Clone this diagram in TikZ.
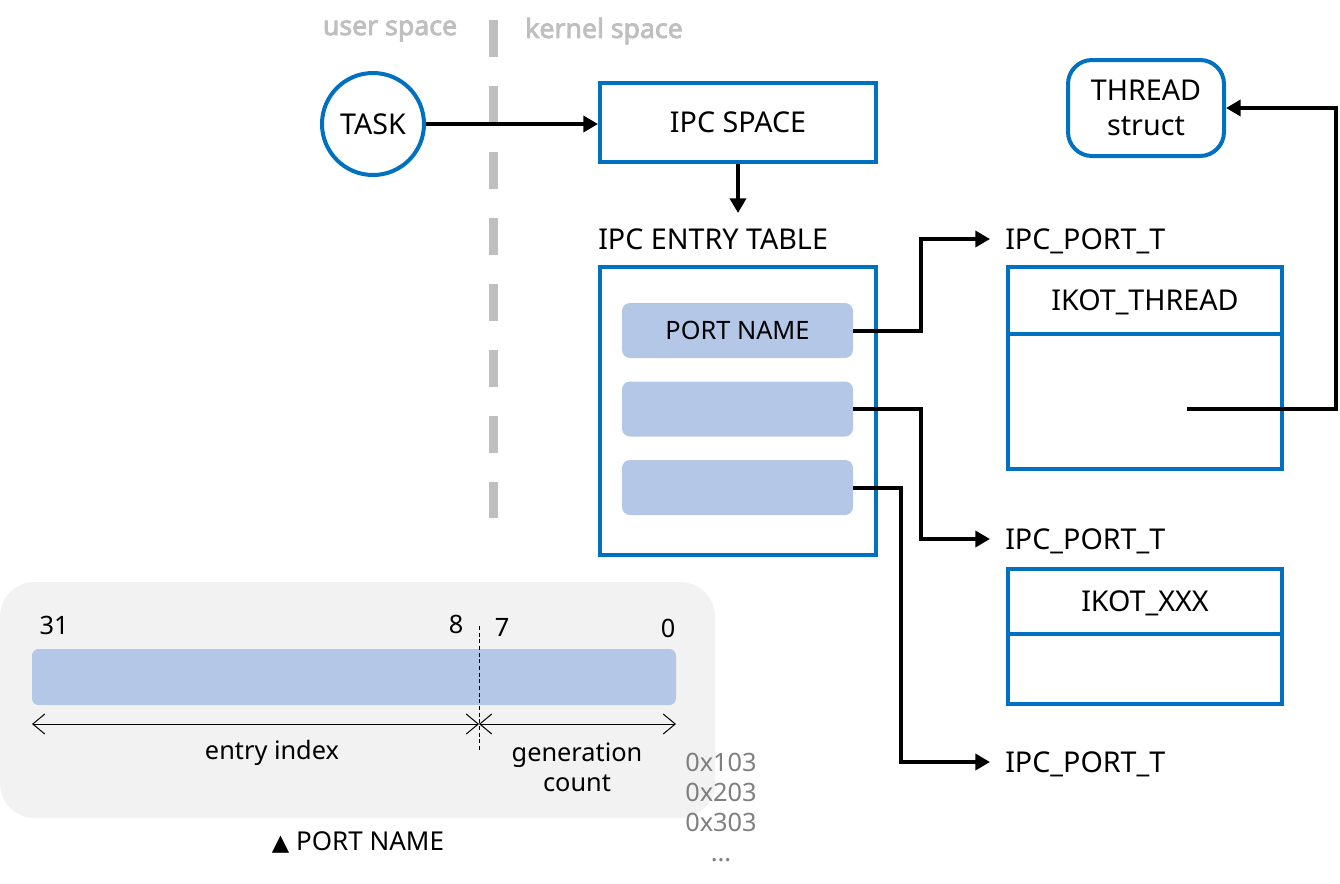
\documentclass[tikz,border=0pt]{standalone}
\usepackage{fontspec}
\setmainfont{Noto Sans}
\newfontfamily\symfont{DejaVu Sans}
\newfontfamily\spacefont{Noto Sans}[FakeBold=3]
\usetikzlibrary{arrows.meta}
\definecolor{pblue}{HTML}{0070C0}
\definecolor{lblue}{HTML}{B4C7E7}
\definecolor{panelgray}{HTML}{F2F2F2}
\definecolor{spacegray}{HTML}{BFBFBF}
\definecolor{hexgray}{HTML}{7F7F7F}
\tikzset{
  mainfont/.style={font=\fontsize{21.5}{26}\selectfont},
  blueline/.style={draw=pblue, line width=3pt, inner sep=0pt, mainfont, align=center},
  bluebox/.style={blueline, text height=15.4pt, text depth=0pt},
  entrybox/.style={fill=lblue, rounded corners=6pt, minimum width=173.25pt, minimum height=41.25pt, inner sep=0pt, font=\fontsize{19}{22}\selectfont, text height=13.6pt, text depth=0pt},
  arr/.style={line width=3pt, -{Triangle[length=11pt,width=12pt]}},
  caplabel/.style={inner sep=0pt, mainfont, anchor=west, text height=15.4pt, text depth=0pt},
  spacelabel/.style={text=spacegray, font=\spacefont\fontsize{20}{22}\selectfont, inner sep=0pt},
  numlabel/.style={inner sep=0pt, font=\fontsize{19}{22}\selectfont},
  dimarr/.style={line width=0.75pt, {Straight Barb[length=9pt,width=15pt]}-{Straight Barb[length=9pt,width=15pt]}},
}
\begin{document}
\begin{tikzpicture}[x=0.75pt,y=-0.75pt]
\useasboundingbox (0,0) rectangle (1340,883);

% user / kernel space
\node[spacelabel] (user) at (390,31) {user space};
\node[spacelabel] (kernel) at (604,31) {kernel space};
\draw[spacegray, line width=6.75pt, dash pattern=on 27.75pt off 21.75pt] (493,20) -- (493,518);

% TASK and IPC space
\node[circle, bluebox, minimum size=76.5pt] (task) at (373,124) {TASK};
\node[bluebox, minimum width=207pt, minimum height=59.25pt] (ipcspace) at (738,122.5) {IPC SPACE};
\draw[arr] (task.east) -- (task.east -| ipcspace.west);
\draw[arr] (ipcspace.south) -- ++(0,49);

% entry table
\node[caplabel] (tablelbl) at (598,239) {IPC ENTRY TABLE};
\node[bluebox, minimum width=207pt, minimum height=216pt] (table) at (738,411) {};
\node[entrybox] (e1) at (737.5,330.5) {PORT NAME};
\node[entrybox] (e2) at (737.5,409) {};
\node[entrybox] (e3) at (737.5,487.5) {};

% ports
\node[caplabel] (pt1) at (1005,239) {IPC\_PORT\_T};
\node[caplabel] (pt2) at (1005,539) {IPC\_PORT\_T};
\node[caplabel] (pt3) at (1005,762) {IPC\_PORT\_T};

\node[bluebox, minimum width=205.5pt, minimum height=50.25pt] (hdr1) at (1145,300.5) {IKOT\_THREAD};
\node[bluebox, minimum width=205.5pt, minimum height=101.25pt] (body1) at (1145,401.5) {};
\node[bluebox, minimum width=205.5pt, minimum height=48.75pt] (hdr2) at (1145,601.5) {IKOT\_XXX};
\node[bluebox, minimum width=205.5pt, minimum height=52.5pt] (body2) at (1145,669) {};

\node[blueline, rounded corners=18pt, minimum width=117pt, minimum height=72pt, text depth=0pt] (thread) at (1146,108) {THREAD\\struct};

\draw[arr] (e1.east) -- ++(68,0) |- ([xshift=-11.25pt]pt1.west);
\draw[arr] (e2.east) -- ++(68,0) |- ([xshift=-11.25pt]pt2.west);
\draw[arr] (e3.east) -- ++(48,0) |- ([xshift=-11.25pt]pt3.west);

\coordinate (tptr) at (1187,409);
\draw[arr] (tptr) -- ++(149,0) |- (thread.east);

% port name panel
\node[fill=panelgray, rounded corners=26pt, minimum width=536.25pt, minimum height=177pt, inner sep=0pt] (panel) at (357.5,700) {};
\node[fill=lblue, rounded corners=5pt, minimum width=483pt, minimum height=42pt, inner sep=0pt] (bar) at (354,677) {};
\node[numlabel] (n31) at (54,625) {31};
\node[numlabel] (n8) at (456,624) {8};
\node[numlabel] (n7) at (502,627) {7};
\node[numlabel] (n0) at (668,628) {0};
\coordinate (divtop) at (479,626);
\coordinate (divbot) at (479,752);
\draw[line width=0.75pt, dash pattern=on 3pt off 2pt] (divtop) -- (divbot);
\coordinate (aleft) at (32,724);
\coordinate (amid) at (479,724);
\coordinate (aright) at (676,724);
\draw[dimarr] (aleft) -- (amid);
\draw[dimarr] (amid) -- (aright);
\node[numlabel] (eidx) at (272,753) {entry index};
\node[numlabel, align=center, font=\fontsize{19}{22.5}\selectfont] (gcount) at (577,767) {generation\\count};
\node[inner sep=0pt, align=center, text=hexgray, font=\fontsize{19}{22.5}\selectfont] (hex) at (721,807) {0x103\\0x203\\0x303\\...};
\node[inner sep=0pt, font=\fontsize{19.5}{22}\selectfont] (pncap) at (358,842) {{\symfont\fontsize{17}{22}\selectfont ▲} PORT NAME};
\end{tikzpicture}
\end{document}
